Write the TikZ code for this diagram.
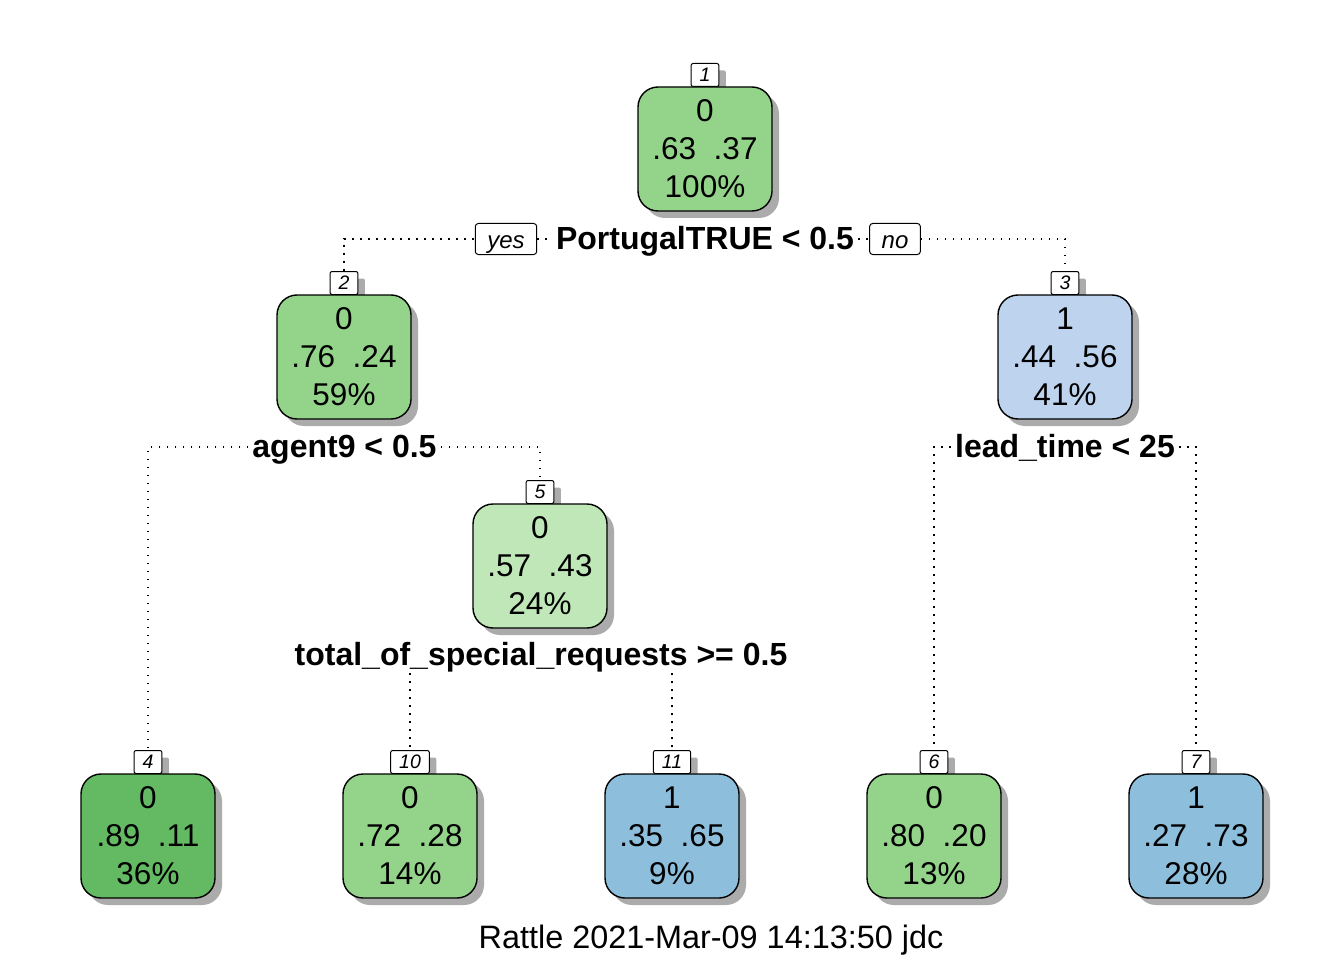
\documentclass[tikz,border=0pt]{standalone}
\usepackage{fontspec}
\setmainfont{Liberation Sans}
\usetikzlibrary{shadows}
\definecolor{gnMid}{HTML}{94D38A}
\definecolor{gnDark}{HTML}{63BA63}
\definecolor{gnLight}{HTML}{BFE7B7}
\definecolor{buLight}{HTML}{BDD3EE}
\definecolor{buMid}{HTML}{8DBEDC}
\begin{document}
\begin{tikzpicture}[x=1pt,y=-1pt,
  leaf/.style={draw=black, line width=1.4pt, rounded corners=20pt,
    minimum width=134pt, minimum height=124pt, inner sep=0pt, align=center,
    font=\fontsize{31.5}{38}\selectfont,
    drop shadow={shadow xshift=7pt, shadow yshift=-7pt, fill=black!33, opacity=1}},
  num/.style={draw=black, line width=1pt, rounded corners=2pt, fill=white,
    minimum width=27pt, minimum height=23pt, inner xsep=8.5pt, inner ysep=0pt,
    anchor=south, font=\fontsize{19.5}{19.5}\selectfont\itshape,
    drop shadow={shadow xshift=7pt, shadow yshift=-7pt, fill=black!33, opacity=1}},
  split/.style={font=\fontsize{32}{32}\selectfont\bfseries, inner xsep=4pt, inner ysep=0pt, anchor=base},
  yn/.style={draw=black, line width=1pt, rounded corners=3pt, fill=white,
    minimum height=31pt, inner xsep=12pt, inner ysep=0pt,
    text height=20pt, text depth=2pt,
    font=\fontsize{24}{24}\selectfont\itshape},
  dotline/.style={line width=1.5pt, dash pattern=on 1.6pt off 6.4pt},
  foot/.style={font=\fontsize{32.4}{32}\selectfont, anchor=base}
]
\useasboundingbox (0,0) rectangle (1344,960);

% number boxes
\node[num] (k1) at (705,87) {1};
\node[num] (k2) at (344,295) {2};
\node[num] (k3) at (1065,295) {3};
\node[num] (k5) at (540,504) {5};
\node[num] (k4) at (148,774) {4};
\node[num] (k10) at (410,774) {10};
\node[num] (k11) at (672,774) {11};
\node[num] (k6) at (934,774) {6};
\node[num] (k7) at (1196,774) {7};

% nodes
\node[leaf, fill=gnMid] (n1) at (705,149) {0\\.63\ \ .37\\100\%};
\node[leaf, fill=gnMid] (n2) at (344,357) {0\\.76\ \ .24\\59\%};
\node[leaf, fill=buLight] (n3) at (1065,357) {1\\.44\ \ .56\\41\%};
\node[leaf, fill=gnLight] (n5) at (540,566) {0\\.57\ \ .43\\24\%};
\node[leaf, fill=gnDark] (n4) at (148,836) {0\\.89\ \ .11\\36\%};
\node[leaf, fill=gnMid] (n10) at (410,836) {0\\.72\ \ .28\\14\%};
\node[leaf, fill=buMid] (n11) at (672,836) {1\\.35\ \ .65\\9\%};
\node[leaf, fill=gnMid] (n6) at (934,836) {0\\.80\ \ .20\\13\%};
\node[leaf, fill=buMid] (n7) at (1196,836) {1\\.27\ \ .73\\28\%};

% split labels
\node[split] (s1) at (705,249) {PortugalTRUE < 0.5};
\node[yn] (yes) at (506,239) {yes};
\node[yn] (no) at (895,239) {no};
\node[split] (s2) at (344.5,457) {agent9 < 0.5};
\node[split] (s3) at (1065,457) {lead\_time < 25};
\node[split] (s5) at (541,665) {total\_of\_special\_requests >= 0.5};

% connectors
\coordinate (c1l) at (yes.east -| s1.west);
\coordinate (c1r) at (no.west -| s1.east);
\draw[dotline] (k2.north) |- (yes.west);
\draw[dotline] (yes.east) -- (c1l);
\draw[dotline] (c1r) -- (no.west);
\draw[dotline] (no.east) -| (k3.north);

\coordinate (c2l) at (s2.west |- 0,447);
\coordinate (c2r) at (s2.east |- 0,447);
\draw[dotline] (c2l) -| (k4.north);
\draw[dotline] (c2r) -| (k5.north);

\coordinate (c3l) at (s3.west |- 0,447);
\coordinate (c3r) at (s3.east |- 0,447);
\draw[dotline] (c3l) -| (k6.north);
\draw[dotline] (c3r) -| (k7.north);

\coordinate (c5l) at (k10.north |- 0,673);
\coordinate (c5r) at (k11.north |- 0,673);
\draw[dotline] (c5l) -- (k10.north);
\draw[dotline] (c5r) -- (k11.north);

\node[foot] (footer) at (711,948) {Rattle 2021-Mar-09 14:13:50 jdc};
\end{tikzpicture}
\end{document}
